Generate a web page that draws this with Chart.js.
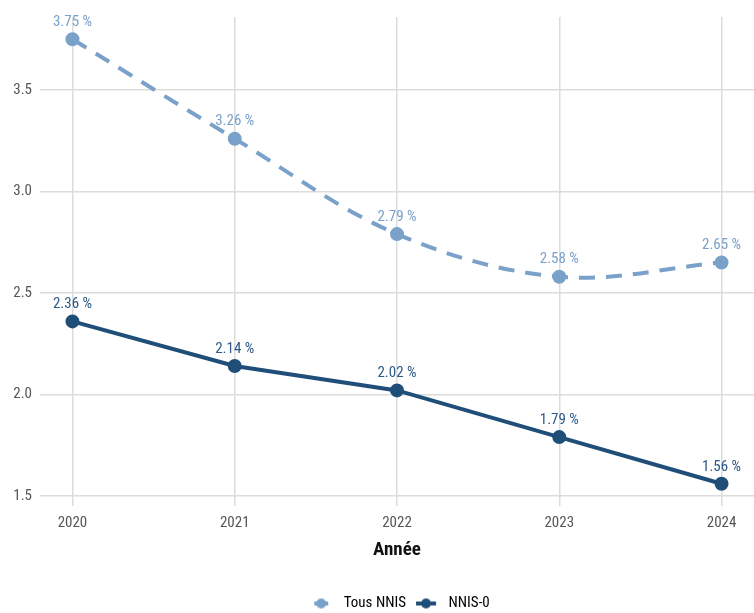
<!DOCTYPE html>
<html>
<head>
<meta charset="utf-8">
<style>
  html, body { margin: 0; padding: 0; background: #fff; }
  #wrap { width: 754px; height: 613px; }
</style>
<script src="https://cdn.jsdelivr.net/npm/chart.js"></script>
</head>
<body>
<div id="wrap"><canvas id="nnisChart" width="754" height="613"></canvas></div>
<script>
// Données
const annees = [2020, 2021, 2022, 2023, 2024];
const tousNnis = [3.75, 3.26, 2.79, 2.58, 2.65];
const nnis0 = [2.36, 2.14, 2.02, 1.79, 1.56];
const yTicks = [1.5, 2.0, 2.5, 3.0, 3.5];

const couleurClair = '#7aa1ca';
const couleurFonce = '#1f4e79';
const police = "'Liberation Sans Narrow', 'Roboto Condensed', 'Arial Narrow', Roboto, sans-serif";

// petit symbole de légende : trait + point
function symbole(couleur, x0, x1) {
    const c = document.createElement('canvas');
    c.width = 30; c.height = 12;
    const g = c.getContext('2d');
    g.strokeStyle = couleur; g.lineWidth = 4;
    g.beginPath(); g.moveTo(x0, 6); g.lineTo(x1, 6); g.stroke();
    g.fillStyle = couleur;
    g.beginPath(); g.arc(15, 6, 5, 0, Math.PI * 2); g.fill();
    return c;
}

// étiquettes "x.xx %" au-dessus des points
const etiquettes = {
    id: 'etiquettes',
    afterLayout(chart) {
        // légende centrée sur la zone du graphique
        const dx = (chart.chartArea.left + chart.chartArea.right) / 2 - chart.width / 2;
        chart.legend.left += dx;
        chart.legend.right += dx;
    },
    afterDatasetsDraw(chart) {
        const ctx = chart.ctx;
        ctx.save();
        ctx.font = '15px ' + police;
        ctx.textAlign = 'center';
        ctx.textBaseline = 'middle';
        chart.data.datasets.forEach((ds, i) => {
            const meta = chart.getDatasetMeta(i);
            ctx.fillStyle = ds.labelColor;
            meta.data.forEach((pt, j) => {
                ctx.fillText(ds.data[j].y.toFixed(2) + ' %', pt.x, pt.y - 17);
            });
        });
        ctx.restore();
    }
};

const ctx = document.getElementById('nnisChart').getContext('2d');
const chart = new Chart(ctx, {
    type: 'line',
    data: {
        datasets: [
            {
                label: 'Tous NNIS',
                data: annees.map((a, i) => ({x: a, y: tousNnis[i]})),
                borderColor: couleurClair,
                backgroundColor: couleurClair,
                labelColor: couleurClair,
                legendMarker: [8, 22],
                borderWidth: 4,
                borderDash: [16, 11],
                pointRadius: 5,
                pointHoverRadius: 5,
                tension: 0.35
            },
            {
                label: 'NNIS-0',
                data: annees.map((a, i) => ({x: a, y: nnis0[i]})),
                borderColor: couleurFonce,
                backgroundColor: couleurFonce,
                labelColor: '#2c5985',
                legendMarker: [5, 25],
                borderWidth: 4,
                pointRadius: 5,
                pointHoverRadius: 5,
                tension: 0
            }
        ]
    },
    options: {
        responsive: false,
        animation: false,
        layout: { autoPadding: false, padding: { top: 13, right: -2, bottom: -8, left: 0 } },
        plugins: {
            tooltip: { enabled: false },
            legend: {
                position: 'bottom',
                labels: {
                    usePointStyle: true,
                    pointStyleWidth: 30,
                    padding: 5,
                    color: '#222',
                    font: { family: police, size: 15 },
                    generateLabels(chart) {
                        return chart.data.datasets.map((ds, i) => ({
                            text: ds.label,
                            pointStyle: symbole(ds.borderColor, ds.legendMarker[0], ds.legendMarker[1]),
                            fillStyle: ds.borderColor,
                            strokeStyle: ds.borderColor,
                            lineWidth: 0,
                            hidden: false,
                            datasetIndex: i
                        }));
                    }
                }
            }
        },
        scales: {
            x: {
                type: 'linear',
                min: 2019.8,
                max: 2024.2,
                afterBuildTicks(scale) { scale.ticks = annees.map(v => ({value: v})); },
                afterFit(scale) { scale.paddingLeft = 0; scale.paddingRight = 0; },
                ticks: {
                    padding: 10,
                    color: '#555',
                    font: { family: police, size: 15, lineHeight: 1 },
                    callback: v => String(v)
                },
                grid: { color: '#dcdcdc', lineWidth: 1.5, drawTicks: false },
                border: { display: false },
                title: {
                    display: true,
                    text: 'Année',
                    color: '#111',
                    font: { family: police, size: 19, weight: 'bold', lineHeight: 1 },
                    padding: { top: 0, bottom: 31 }
                }
            },
            y: {
                min: 1.4505,
                max: 3.8595,
                afterBuildTicks(scale) { scale.ticks = yTicks.map(v => ({value: v})); },
                afterFit(scale) { scale.width = 40; },
                ticks: {
                    padding: 8,
                    color: '#555',
                    font: { family: police, size: 15 },
                    callback: v => v.toFixed(1)
                },
                grid: { color: '#dcdcdc', lineWidth: 1.5, drawTicks: false },
                border: { display: false }
            }
        }
    },
    plugins: [etiquettes]
});
</script>
</body>
</html>
